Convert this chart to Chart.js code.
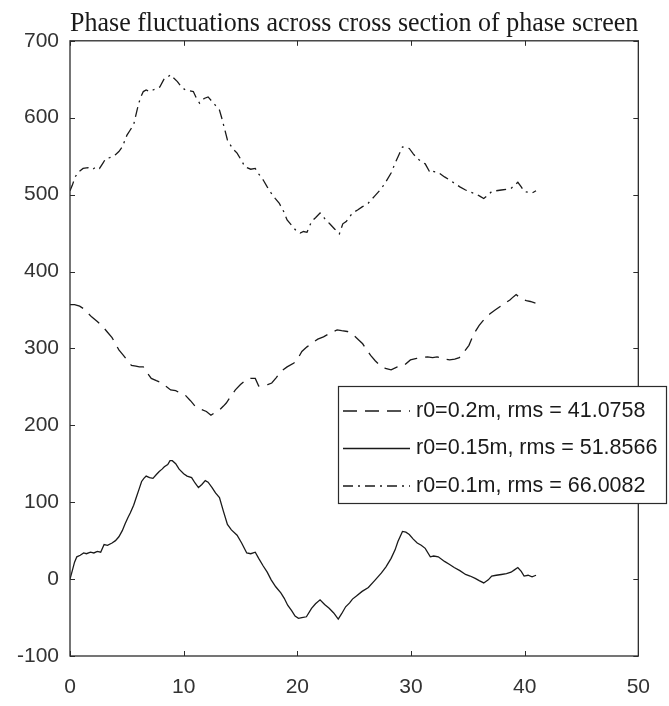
<!DOCTYPE html>
<html>
<head>
<meta charset="utf-8">
<title>Phase screen cross section</title>
<script src="https://cdn.jsdelivr.net/npm/chart.js@4"></script>
<style>
  body { margin: 0; background: #fff; }
  canvas { display: block; }
</style>
</head>
<body>
<canvas id="chart1" width="669" height="706"></canvas>
<script>
// r0 = 0.2m (dashed)
const x02 = [0, 0.4, 0.85, 1.15, 1.45, 1.9, 2.4, 2.9, 3.3, 3.7, 4.0, 4.3, 4.7, 5.05, 5.4, 5.8, 6.1, 6.45, 6.8, 7.15,
  7.6, 8.1, 8.5, 8.85, 9.3, 9.7, 10.15, 10.6, 11.0, 11.5, 12.0, 12.4, 12.8, 13.15, 13.5, 13.75, 14.15, 14.55, 15.0, 15.55,
  15.9, 16.3, 16.6, 17.0, 17.4, 17.75, 18.15, 18.55, 19.1, 19.7, 20.05, 20.4, 20.85, 21.3, 21.8, 22.3, 22.9, 23.5, 23.9, 24.4,
  24.9, 25.4, 25.75, 26.1, 26.45, 26.85, 27.25, 27.75, 28.25, 28.8, 29.4, 29.95, 30.5, 31.0, 31.45, 31.9, 32.3, 32.8, 33.4, 33.85,
  34.25, 34.7, 35.1, 35.5, 36.0, 36.5, 36.95, 37.4, 37.9, 38.3, 38.7, 39.0, 39.25, 39.5, 39.8, 40.15, 40.5, 40.95];
const phi02 = [357, 357, 355, 352, 348, 341, 335, 328, 321, 314, 306, 298, 291, 284, 278, 277, 276, 276, 268, 261,
  258, 255, 250, 246, 245, 242, 239, 232, 225, 221, 218, 213, 217, 220, 225, 229, 238, 246, 253, 260,
  261, 261, 251, 252, 253, 255, 262, 270, 276, 281, 287, 296, 302, 307, 312, 315, 320, 324, 323, 322,
  318, 311, 306, 298, 291, 284, 278, 274, 272, 276, 278, 285, 287, 288, 289, 288, 289, 287, 285, 286,
  288, 296, 304, 318, 330, 339, 345, 350, 355, 359, 363, 367, 370, 367, 364, 362, 361, 359];

// r0 = 0.15m (solid)
const x015 = [0, 0.15, 0.4, 0.6, 0.9, 1.2, 1.45, 1.8, 2.1, 2.4, 2.7, 3.0, 3.3, 3.7, 4.0, 4.3, 4.6, 4.85, 5.1, 5.3,
  5.6, 5.85, 6.1, 6.3, 6.5, 6.7, 7.0, 7.3, 7.6, 7.85, 8.1, 8.3, 8.6, 8.8, 9.0, 9.3, 9.6, 10.0, 10.3, 10.7,
  11.0, 11.3, 11.6, 11.9, 12.15, 12.5, 12.8, 13.15, 13.5, 13.85, 14.2, 14.7, 15.1, 15.55, 15.9, 16.3, 16.6, 17.0, 17.35, 17.7,
  18.1, 18.55, 18.85, 19.15, 19.5, 19.8, 20.1, 20.4, 20.8, 21.25, 21.6, 22.0, 22.4, 22.8, 23.2, 23.6, 23.9, 24.25, 24.6, 24.85,
  25.2, 25.7, 26.25, 26.8, 27.4, 27.8, 28.25, 28.6, 28.85, 29.25, 29.55, 29.85, 30.2, 30.55, 30.9, 31.25, 31.7, 32.0, 32.4, 32.95,
  33.4, 33.8, 34.3, 34.8, 35.2, 35.65, 36.0, 36.4, 36.8, 37.1, 37.5, 37.95, 38.4, 38.8, 39.1, 39.4, 39.7, 39.95, 40.3, 40.65, 41.0];
const phi015 = [0, 8, 22, 29, 31, 34, 33, 35, 34, 36, 35, 45, 44, 47, 50, 55, 63, 72, 80, 86,
  96, 107, 118, 127, 131, 134, 132, 131, 136, 140, 143, 146, 149, 154, 154, 150, 143, 137, 134, 132,
  125, 119, 123, 128, 126, 119, 112, 106, 88, 71, 64, 57, 47, 34, 33, 35, 27, 17, 9, -1,
  -10, -18, -25, -34, -41, -48, -51, -50, -49, -38, -32, -27, -33, -38, -44, -52, -45, -36, -31, -26,
  -22, -16, -11, -2, 8, 16, 27, 38, 49, 62, 61, 58, 52, 47, 44, 40, 29, 30, 29, 23,
  19, 15, 11, 6, 4, 1, -2, -5, -1, 4, 5, 6, 7, 9, 12, 15, 10, 4, 5, 3, 5];

// r0 = 0.1m (dash-dot)
const x01 = [0, 0.2, 0.45, 0.8, 1.15, 1.6, 2.0, 2.3, 2.6, 2.9, 3.15, 3.5, 4.0, 4.3, 4.6, 5.0, 5.3, 5.6, 6.0, 6.2,
  6.45, 6.7, 7.0, 7.3, 7.6, 7.9, 8.3, 8.6, 8.85, 9.1, 9.45, 9.8, 10.15, 10.5, 10.85, 11.1, 11.4, 11.8, 12.15, 12.5,
  12.8, 13.15, 13.4, 13.85, 14.3, 14.7, 15.1, 15.4, 15.9, 16.3, 16.6, 17.0, 17.35, 17.7, 18.05, 18.4, 18.8, 19.1, 19.5, 19.9,
  20.25, 20.55, 20.85, 21.25, 21.6, 22.0, 22.4, 22.85, 23.3, 23.7, 24.0, 24.3, 24.85, 25.3, 25.7, 26.25, 26.8, 27.4, 27.8, 28.25,
  28.55, 28.85, 29.25, 29.55, 29.85, 30.2, 30.55, 30.9, 31.25, 31.7, 32.0, 32.4, 32.95, 33.4, 33.8, 34.3, 34.8, 35.25, 35.7, 36.05,
  36.4, 36.75, 37.1, 37.5, 37.95, 38.4, 38.8, 39.1, 39.4, 39.7, 39.95, 40.3, 40.65, 41.0];
const phi01 = [505, 512, 523, 530, 534, 535, 533, 536, 534, 541, 547, 548, 552, 556, 562, 577, 584, 591, 616, 626,
  634, 636, 634, 636, 638, 640, 651, 653, 656, 652, 647, 640, 636, 635, 634, 626, 619, 625, 627, 621,
  616, 610, 597, 571, 560, 554, 544, 536, 533, 534, 527, 519, 510, 502, 495, 489, 478, 467, 460, 453,
  450, 452, 451, 465, 470, 476, 469, 462, 455, 449, 462, 465, 476, 480, 484, 489, 498, 508, 517, 528,
  539, 549, 562, 561, 560, 553, 547, 543, 540, 528, 530, 529, 523, 519, 515, 510, 506, 503, 501, 498,
  495, 499, 504, 505, 506, 507, 508, 512, 516, 510, 504, 503, 502, 505];

const seriesLabels = ['r0=0.2m, rms = 41.0758', 'r0=0.15m, rms = 51.8566', 'r0=0.1m, rms = 66.0082'];
const xTicks = [0, 10, 20, 30, 40, 50];
const yTicks = [-100, 0, 100, 200, 300, 400, 500, 600, 700];

const ink = '#1a1a1a';
const axisColor = '#2b2b2b';
const dashes = [[14, 8], [], [10, 5, 2, 5]];

function pts(xs, ys){
    return xs.map((x, i) => ({x: x, y: ys[i]}));
}

// axes box with inward ticks, like a matlab figure
const boxAxes = {
    id: 'boxAxes',
    afterDatasetsDraw(chart){
        const {ctx, chartArea: a, scales} = chart;
        ctx.save();
        ctx.strokeStyle = axisColor;
        ctx.lineWidth = 1.3;
        ctx.setLineDash([]);
        ctx.strokeRect(a.left, a.top, a.right - a.left, a.bottom - a.top);
        ctx.lineWidth = 1;
        ctx.beginPath();
        for(const t of xTicks){
            const px = Math.round(scales.x.getPixelForValue(t)) + 0.5;
            ctx.moveTo(px, a.bottom); ctx.lineTo(px, a.bottom - 5);
            ctx.moveTo(px, a.top); ctx.lineTo(px, a.top + 5);
        }
        for(const t of yTicks){
            const py = Math.round(scales.y.getPixelForValue(t)) + 0.5;
            ctx.moveTo(a.left, py); ctx.lineTo(a.left + 5, py);
            ctx.moveTo(a.right, py); ctx.lineTo(a.right - 5, py);
        }
        ctx.stroke();
        ctx.restore();
    }
};

// legend box sitting inside the axes, lower right
const boxLegend = {
    id: 'boxLegend',
    afterDraw(chart){
        const ctx = chart.ctx;
        const left = 338, top = 386, right = 666, bottom = 503;
        const rowH = 37.5;
        ctx.save();
        ctx.fillStyle = '#fff';
        ctx.fillRect(left, top, right - left, bottom - top);
        ctx.strokeStyle = axisColor;
        ctx.lineWidth = 1.2;
        ctx.strokeRect(left + 0.5, top + 0.5, right - left, bottom - top);
        ctx.font = '21.5px "Liberation Sans", Arial, sans-serif';
        ctx.textBaseline = 'middle';
        ctx.fillStyle = ink;
        seriesLabels.forEach((lbl, i) => {
            const y = top + 25 + i * rowH;
            ctx.strokeStyle = ink;
            ctx.lineWidth = 1.4;
            ctx.setLineDash(dashes[i]);
            ctx.beginPath();
            ctx.moveTo(343, y); ctx.lineTo(410, y);
            ctx.stroke();
            ctx.setLineDash([]);
            ctx.fillText(lbl, 416, y);
        });
        ctx.restore();
    }
};

const datasets = [
    {label: seriesLabels[0], data: pts(x02, phi02), borderDash: dashes[0]},
    {label: seriesLabels[1], data: pts(x015, phi015), borderDash: dashes[1]},
    {label: seriesLabels[2], data: pts(x01, phi01), borderDash: dashes[2]}
].map(d => Object.assign(d, {
    borderColor: ink,
    borderWidth: 1.3,
    pointRadius: 0,
    tension: 0,
    fill: false
}));

const tickFont = {family: '"Liberation Sans", Arial, sans-serif', size: 21};

new Chart(document.getElementById('chart1'), {
    type: 'line',
    data: {datasets: datasets},
    options: {
        responsive: false,
        animation: false,
        devicePixelRatio: 1,
        layout: {padding: {left: 0, right: 15, top: 0, bottom: 0}},
        plugins: {
            legend: {display: false},
            tooltip: {enabled: false},
            title: {
                display: true,
                fullSize: false,
                text: 'Phase fluctuations across cross section of phase screen',
                color: ink,
                font: {family: '"Liberation Serif", "Times New Roman", serif', size: 26.5, weight: 'normal', lineHeight: 1.2},
                padding: {top: 8, bottom: 1}
            }
        },
        scales: {
            x: {
                type: 'linear',
                min: 0,
                max: 50,
                grid: {display: false, drawTicks: false},
                border: {display: false},
                ticks: {stepSize: 10, color: '#333', font: tickFont, padding: 19, maxRotation: 0},
                afterFit(scale){ scale.height = 50; }
            },
            y: {
                min: -100,
                max: 700,
                grid: {display: false, drawTicks: false},
                border: {display: false},
                ticks: {stepSize: 100, color: '#333', font: tickFont, padding: 11},
                afterFit(scale){ scale.width = 70; }
            }
        }
    },
    plugins: [boxAxes, boxLegend]
});
</script>
</body>
</html>
